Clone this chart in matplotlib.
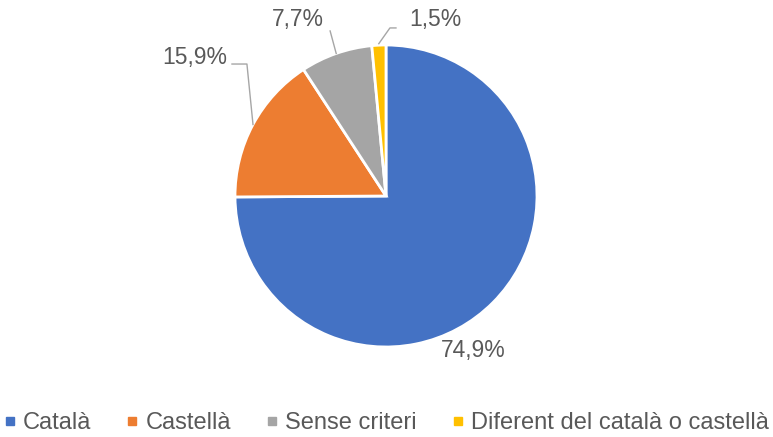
import matplotlib.pyplot as plt
from matplotlib.lines import Line2D
import numpy as np

plt.rcParams['font.family'] = ['Liberation Sans', 'DejaVu Sans']

categories = ["Català", "Castellà", "Sense criteri", "Diferent del català o castellà"]
values = [74.9, 15.9, 7.7, 1.5]
colors = ["#4472C4", "#ED7D31", "#A5A5A5", "#FFC000"]
labels = ["74,9%", "15,9%", "7,7%", "1,5%"]

text_color = "#595959"
line_color = "#A6A6A6"

fig = plt.figure(figsize=(7.73, 4.37), dpi=100)
cx, cy, r = 386, 196, 151
ax = fig.add_axes([(cx - r) / 773, (437 - cy - r) / 437, 2 * r / 773, 2 * r / 437])

wedges, _ = ax.pie(values, colors=colors, startangle=90, counterclock=False,
                   radius=1, wedgeprops=dict(edgecolor="white", linewidth=2))
ax.set_xlim(-1, 1)
ax.set_ylim(-1, 1)
ax.set_aspect("equal")
ax.axis("off")

fs = 16.5
ax.text(0.576, -1.02, labels[0], ha="center", va="center", fontsize=fs,
        color=text_color, clip_on=False)


def mid(w, rr=1.0):
    a = np.deg2rad((w.theta1 + w.theta2) / 2)
    return rr * np.cos(a), rr * np.sin(a)


# Castellà
ex, ey = mid(wedges[1], 1.0)
ax.plot([-1.020, -0.921, ex], [0.874, 0.874, ey], color=line_color, lw=1, clip_on=False)
ax.text(-1.053, 0.92, labels[1], ha="right", va="center", fontsize=fs,
        color=text_color, clip_on=False)

# Sense criteri
ex, ey = mid(wedges[2], 1.0)
ax.plot([-0.370, ex], [1.093, ey], color=line_color, lw=1, clip_on=False)
ax.text(-0.585, 1.166, labels[2], ha="center", va="center", fontsize=fs,
        color=text_color, clip_on=False)

# Diferent
ex, ey = mid(wedges[3], 1.01)
ax.plot([0.066, 0.026, ex], [1.113, 1.113, ey], color=line_color, lw=1, clip_on=False)
ax.text(0.325, 1.166, labels[3], ha="center", va="center", fontsize=fs,
        color=text_color, clip_on=False)

handles = [Line2D([], [], marker="s", linestyle="", markersize=6,
                  markerfacecolor=c, markeredgecolor=c) for c in colors]
leg = fig.legend(handles, categories, loc="center", ncol=4, frameon=False,
                 fontsize=17, bbox_to_anchor=(0.5, 1 - 423 / 437), handlelength=0.5,
                 handletextpad=0.3, columnspacing=1.5)
for t in leg.get_texts():
    t.set_color(text_color)

fig.savefig("out.png", dpi=100)
